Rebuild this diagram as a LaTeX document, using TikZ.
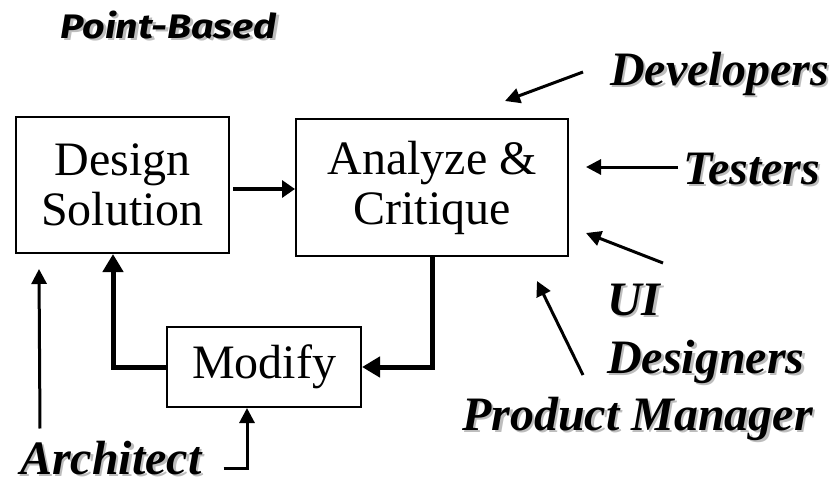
\documentclass[tikz,border=0pt]{standalone}
\usepackage{fontspec}
\setmainfont{Liberation Serif}[
  BoldFont={Liberation Serif Bold},
  ItalicFont={Liberation Serif Italic},
  BoldItalicFont={Liberation Serif Bold Italic}]
\newfontfamily\titlefont{Fira Sans}
\usetikzlibrary{arrows.meta}
\definecolor{shadowgray}{gray}{0.74}
% text with a soft drop shadow
\newcommand{\shadowed}[1]{\makebox[0pt][l]{\hspace{2.5pt}\raisebox{-2.5pt}{\textcolor{shadowgray}{#1}}}#1}
\tikzset{
  stepbox/.style={draw, line width=2pt, inner sep=0pt, align=center,
    font=\fontsize{48}{50}\selectfont},
  role/.style={inner sep=0pt, anchor=base west,
    font=\fontsize{48}{50}\selectfont\bfseries\itshape},
  thinarrow/.style={line width=3pt, -{Triangle[length=15pt,width=15pt]}},
  midarrow/.style={line width=4pt, -{Triangle[length=13pt,width=17pt]}},
  looparrow/.style={line width=5pt, -{Triangle[length=18pt,width=20pt]}},
}
\begin{document}
\begin{tikzpicture}[x=1pt,y=-1pt]
\useasboundingbox (0,0) rectangle (831,480);

% title
\node[inner sep=0pt, anchor=base west] (title) at (60,38)
  {\titlefont\fontsize{34}{36}\selectfont\bfseries\itshape
   \scalebox{1.16}[1]{\shadowed{Point-Based}}};

% process boxes
\node[stepbox, minimum width=213pt, minimum height=136pt] (design) at (122.5,185) {Design\\Solution};
\node[stepbox, minimum width=272pt, minimum height=137pt] (analyze) at (432,187.5) {Analyze \&\\Critique};
\node[stepbox, minimum width=194pt, minimum height=80pt] (modify) at (264,367) {Modify};

% stakeholders
\node[role] (dev) at (610,85) {\shadowed{Developers}};
\node[role] (test) at (683,184) {\shadowed{Testers}};
\node[role] (ui) at (607,315) {\shadowed{UI}};
\node[role] (uid) at (607,373) {\shadowed{Designers}};
\node[role] (pm) at (462,430) {\shadowed{Product Manager}};
\node[role] (arch) at (20,474) {\shadowed{Architect}};

% main flow and feedback loop
\draw[midarrow] ([xshift=3pt,yshift=-4pt]design.east) -- ([yshift=-1.5pt]analyze.west);
\draw[looparrow] (analyze.south) |- (modify.east);
\draw[looparrow] (modify.west) -| ([xshift=-9.5pt]design.south);

% stakeholder inputs
\draw[thinarrow] ([xshift=20pt,yshift=12pt]arch.north west) -- ([xshift=24pt,yshift=-15pt]design.south west);
\draw[thinarrow] ([xshift=22pt,yshift=6pt]arch.base east) -| ([xshift=-17pt]modify.south);
\draw[thinarrow] ([xshift=-27pt,yshift=13pt]dev.base west) -- ([xshift=73pt,yshift=17pt]analyze.north);
\draw[thinarrow] ([xshift=-5pt,yshift=17pt]test.base west) -- ([xshift=17pt,yshift=20.5pt]analyze.east);
\draw[thinarrow] ([xshift=56pt,yshift=52pt]ui.base west) -- ([xshift=17pt,yshift=24pt]analyze.south east);
\draw[thinarrow] ([xshift=121pt,yshift=55pt]pm.base west) -- ([xshift=-32pt,yshift=-24pt]analyze.south east);
\end{tikzpicture}
\end{document}
